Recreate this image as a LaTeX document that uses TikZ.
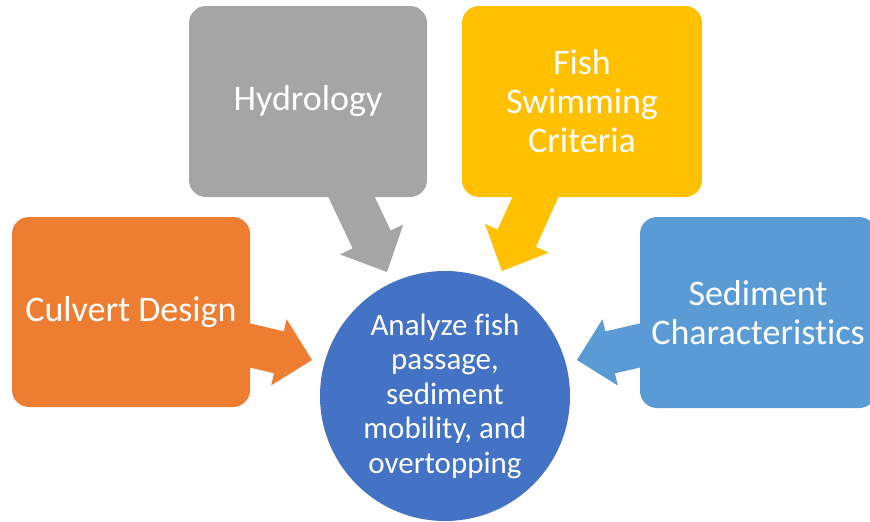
\documentclass[tikz,border=0pt]{standalone}
\usepackage{fontspec}
\setmainfont[Ligatures=NoCommon]{Carlito}
\usetikzlibrary{calc}
\definecolor{cgray}{HTML}{A5A5A5}
\definecolor{cyellow}{HTML}{FFC000}
\definecolor{corange}{HTML}{ED7D31}
\definecolor{clblue}{HTML}{5B9BD5}
\definecolor{cdblue}{HTML}{4472C4}
\tikzset{
  boxnode/.style={rounded corners=17pt, inner sep=0pt, text=white, align=center,
    font=\fontsize{36}{39}\selectfont},
  hubnode/.style={circle, fill=cdblue, minimum size=250pt, inner sep=0pt, text=white,
    align=center, font=\fontsize{31}{34.5}\selectfont},
}
\newcommand\blockarrow[6]{%
  \coordinate (ba-s) at #2;
  \coordinate (ba-t) at #3;
  \coordinate (ba-b) at ($(ba-t)!#6!(ba-s)$);
  \fill[#1] ($(ba-s)!#4!90:(ba-t)$) -- ($(ba-b)!#4!90:(ba-t)$) -- ($(ba-b)!#5!90:(ba-t)$)
    -- (ba-t) -- ($(ba-b)!#5!-90:(ba-t)$) -- ($(ba-b)!#4!-90:(ba-t)$)
    -- ($(ba-s)!#4!-90:(ba-t)$) -- cycle;}
\begin{document}
\begin{tikzpicture}[x=1pt,y=-1pt]
\useasboundingbox (0,0) rectangle (870,522);
% block arrows (drawn beneath the boxes)
\blockarrow{cgray}{(344.3,181.6)}{(387,272)}{21pt}{35pt}{36pt}
\blockarrow{cyellow}{(543.2,179.8)}{(502,271)}{21pt}{35pt}{36pt}
\blockarrow{corange}{(234.1,341.8)}{(312,360)}{21.5pt}{34pt}{34pt}
\blockarrow{clblue}{(655,342)}{(577,360)}{21.5pt}{34pt}{34pt}
% boxes
\node[boxnode, fill=cgray, minimum width=238pt, minimum height=191pt] (hyd) at (308,101.5) {Hydrology};
\node[boxnode, fill=cyellow, minimum width=240pt, minimum height=191pt] (fish) at (582,101.5) {Fish\\Swimming\\Criteria};
\node[boxnode, fill=corange, minimum width=238pt, minimum height=190pt] (culv) at (131,312) {Culvert Design};
\node[boxnode, fill=clblue, minimum width=236pt, minimum height=191pt] (sed) at (758,312.5) {Sediment\\Characteristics};
% hub
\node[hubnode] (hub) at (445,396) {Analyze fish\\passage,\\sediment\\mobility, and\\overtopping};
\end{tikzpicture}
\end{document}
